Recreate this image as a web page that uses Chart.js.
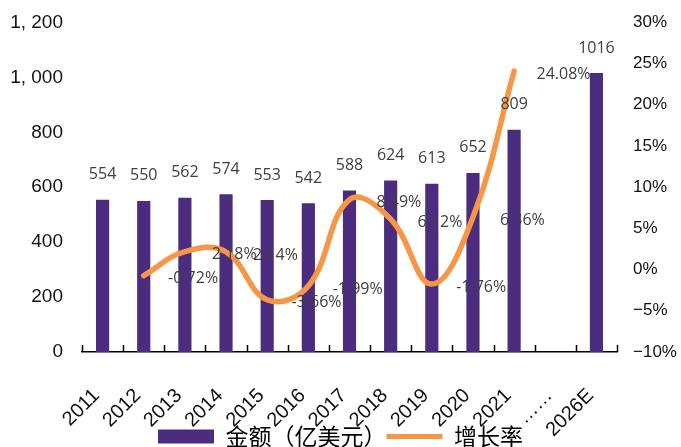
<!DOCTYPE html>
<html>
<head>
<meta charset="utf-8">
<script src="https://cdn.jsdelivr.net/npm/chart.js@4/dist/chart.umd.min.js"></script>
<style>
  html, body { margin: 0; padding: 0; background: #fff; }
  #wrap { width: 681px; height: 447px; }
</style>
</head>
<body>
<div id="wrap"><canvas id="chart" width="681" height="447"></canvas></div>
<script>
const years = ["2011", "2012", "2013", "2014", "2015", "2016", "2017", "2018", "2019", "2020", "2021", "……", "2026E"];
const amounts = [554, 550, 562, 574, 553, 542, 588, 624, 613, 652, 809, null, 1016];
const growth = [null, -0.72, 2.18, 2.14, -3.66, -1.99, 8.49, 6.12, -1.76, 6.36, 24.08, null, null];

const barColor = "#4B2C7F";
const lineColor = "#F79646";
const labelColor = "#404040";

// value labels + small upward ticks on the category axis
const valueLabels = {
  id: "valueLabels",
  afterDatasetsDraw(chart) {
    const ctx = chart.ctx;
    const xs = chart.scales.x;
    const step = xs.getPixelForValue(1) - xs.getPixelForValue(0);
    ctx.save();
    ctx.font = "16px 'Open Sans'";
    ctx.fillStyle = labelColor;
    ctx.textAlign = "center";
    ctx.textBaseline = "middle";
    chart.getDatasetMeta(0).data.forEach((bar, i) => {
      if (amounts[i] == null) return;
      ctx.fillText(String(amounts[i]), bar.x, bar.y - 25);
    });
    chart.getDatasetMeta(1).data.forEach((pt, i) => {
      if (growth[i] == null) return;
      ctx.fillText(growth[i].toFixed(2) + "%", pt.x + step * 1.2, pt.y + 3);
    });

    ctx.strokeStyle = "#000";
    ctx.lineWidth = 1.5;
    ctx.beginPath();
    for (let k = 0; k <= years.length; k++) {
      const px = Math.round(xs.left + k * step) + 0.5;
      ctx.moveTo(px, xs.top);
      ctx.lineTo(px, xs.top - 7);
    }
    ctx.stroke();
    ctx.restore();
  },
};

new Chart(document.getElementById("chart"), {
  data: {
    labels: years,
    datasets: [
      {
        type: "bar",
        label: "金额（亿美元）",
        data: amounts,
        yAxisID: "y",
        backgroundColor: barColor,
        barPercentage: 0.32,
        categoryPercentage: 1,
        order: 2,
      },
      {
        type: "line",
        label: "增长率",
        data: growth,
        yAxisID: "y1",
        borderColor: lineColor,
        backgroundColor: lineColor,
        borderWidth: 5.5,
        borderCapStyle: "round",
        tension: 0.4,
        pointRadius: 0,
        spanGaps: false,
        order: 1,
      },
    ],
  },
  plugins: [valueLabels],
  options: {
    responsive: false,
    animation: false,
    layout: { padding: { top: 14, left: 0, right: 0, bottom: -11 } },
    plugins: {
      tooltip: { enabled: false },
      legend: {
        position: "bottom",
        labels: {
          usePointStyle: true,
          pointStyleWidth: 56,
          boxHeight: 14,
          padding: 0,
          color: "#222",
          font: { family: "'Noto Sans CJK SC'", size: 23 },
          generateLabels: () => [
            { text: "金额（亿美元）", fillStyle: barColor, strokeStyle: barColor, lineWidth: 0, pointStyle: "rect", datasetIndex: 0 },
            { text: "增长率", fillStyle: lineColor, strokeStyle: lineColor, lineWidth: 5, pointStyle: "line", datasetIndex: 1 },
          ],
        },
      },
    },
    scales: {
      x: {
        offset: true,
        grid: { display: false },
        border: { display: true, color: "#000", width: 1.5 },
        ticks: {
          color: "#111",
          font: { family: "'Liberation Sans'", size: 20 },
          maxRotation: 45,
          minRotation: 45,
          padding: 24,
          labelOffset: -6,
          autoSkip: false,
        },
        afterFit: (scale) => {
          scale.height = 73;
          // rotated labels run down into the legend row, as in the source
          scale._computeLabelArea = () => undefined;
        },
      },
      y: {
        position: "left",
        min: 0,
        max: 1200,
        grid: { display: false },
        border: { display: false },
        ticks: {
          stepSize: 200,
          color: "#111",
          padding: 11,
          font: { family: "'Liberation Sans'", size: 19 },
          callback: (v) => (v >= 1000 ? Math.floor(v / 1000) + ", " + String(v % 1000).padStart(3, "0") : String(v)),
        },
        afterFit: (scale) => { scale.width = 82; },
      },
      y1: {
        position: "right",
        min: -10,
        max: 30,
        grid: { display: false },
        border: { display: false },
        ticks: {
          stepSize: 5,
          color: "#111",
          padding: 8,
          font: { family: "'Liberation Sans'", size: 17 },
          callback: (v) => (v < 0 ? "\u2212" + Math.abs(v) : String(v)) + "%",
        },
        afterFit: (scale) => { scale.width = 64; },
      },
    },
  },
});
</script>
</body>
</html>
